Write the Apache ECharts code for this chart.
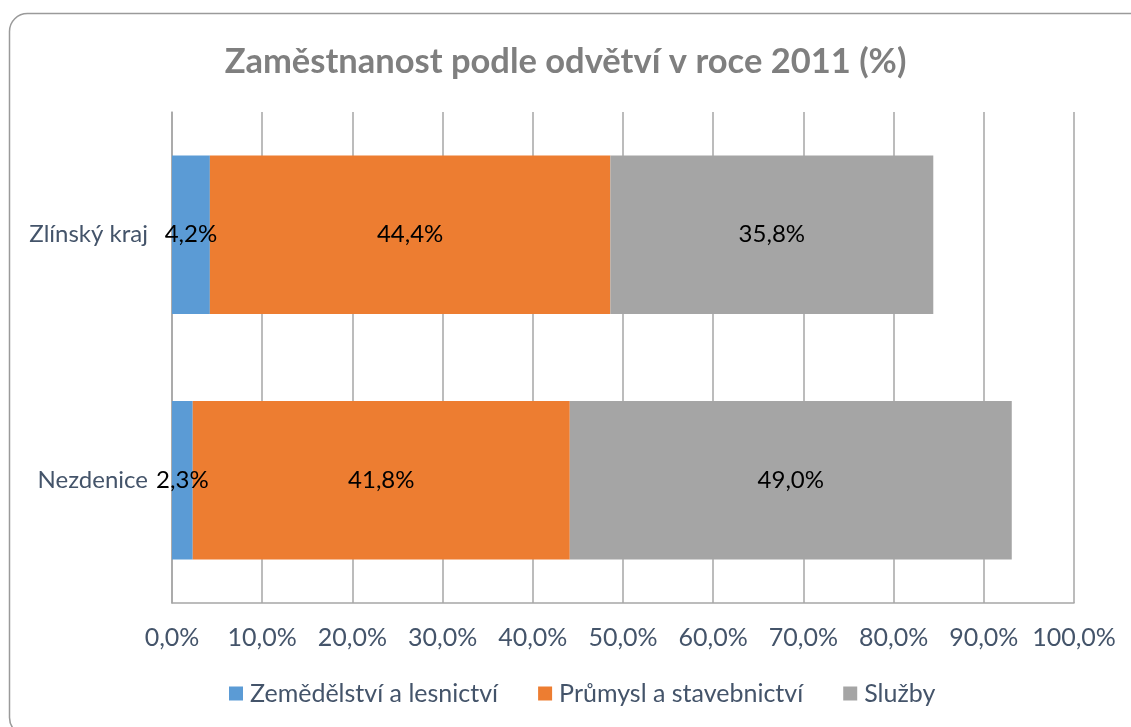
<!DOCTYPE html>
<html>
<head>
<meta charset="utf-8">
<script src="https://cdn.jsdelivr.net/npm/echarts@6/dist/echarts.min.js"></script>
<style>
  html, body { margin: 0; padding: 0; background: #fff; }
  #chart { width: 1131px; height: 727px; }
</style>
</head>
<body>
<div id="chart"></div>
<script>
// Data
const categories = ['Zlínský kraj', 'Nezdenice'];
const seriesNames = ['Zemědělství a lesnictví', 'Průmysl a stavebnictví', 'Služby'];
const agriculture = [4.2, 2.3];
const industry = [44.4, 41.8];
const services = [35.8, 49.0];
const xTicks = [0, 10, 20, 30, 40, 50, 60, 70, 80, 90, 100];

const colors = ['#5B9BD5', '#ED7D31', '#A5A5A5'];
const font = 'Lato, "Open Sans", sans-serif';
const fmt = v => v.toFixed(1).replace('.', ',') + '%';

const chart = echarts.init(document.getElementById('chart'));

const makeSeries = (name, data, color) => ({
  name,
  type: 'bar',
  stack: 'total',
  data,
  barWidth: '64.5%',
  itemStyle: { color },
  label: {
    show: true,
    position: 'inside',
    color: '#000',
    fontFamily: font,
    fontSize: 24,
    formatter: p => fmt(p.value)
  }
});

chart.setOption({
  animation: false,
  title: {
    text: 'Zaměstnanost podle odvětví v roce 2011 (%)',
    left: 'center',
    top: 39,
    textStyle: { color: '#7F7F7F', fontFamily: font, fontWeight: 'bold', fontSize: 34.5 }
  },
  graphic: [{
    type: 'rect',
    shape: { x: 9.5, y: 13.5, width: 1140, height: 722, r: 18 },
    style: { fill: 'none', stroke: '#9A9A9A', lineWidth: 1.5 },
    silent: true,
    z: -1
  }],
  legend: {
    bottom: 16,
    left: 224,
    itemWidth: 14,
    itemHeight: 14,
    itemGap: 40,
    icon: 'rect',
    textStyle: { color: '#44546A', fontFamily: font, fontSize: 25, padding: [0, 0, 0, 2] },
    data: seriesNames
  },
  grid: { left: 172, right: 57, top: 112, bottom: 124 },
  xAxis: {
    type: 'value',
    min: 0,
    max: 100,
    interval: 10,
    axisLine: { show: true, lineStyle: { color: '#A6A6A6', width: 1.5 } },
    axisTick: { show: false },
    splitLine: { show: true, lineStyle: { color: '#A6A6A6', width: 1.5 } },
    axisLabel: {
      color: '#44546A',
      fontFamily: font,
      fontSize: 25,
      margin: 22,
      formatter: v => xTicks.includes(v) ? fmt(v) : ''
    }
  },
  yAxis: {
    type: 'category',
    inverse: true,
    data: categories,
    axisLine: { show: true, lineStyle: { color: '#A6A6A6', width: 1.5 } },
    axisTick: { show: false },
    axisLabel: { color: '#44546A', fontFamily: font, fontSize: 24, margin: 24 }
  },
  series: [
    makeSeries(seriesNames[0], agriculture, colors[0]),
    makeSeries(seriesNames[1], industry, colors[1]),
    makeSeries(seriesNames[2], services, colors[2])
  ]
});
</script>
</body>
</html>
